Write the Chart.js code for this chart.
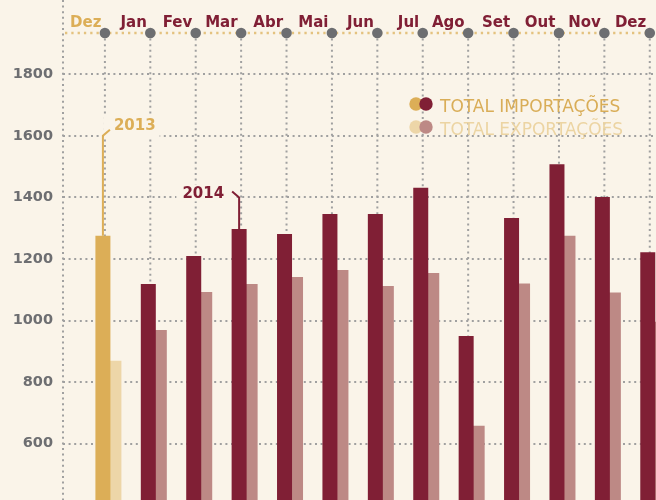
<!DOCTYPE html>
<html lang="pt">
<head>
<meta charset="utf-8">
<title>Importações e exportações</title>
<script src="https://cdn.jsdelivr.net/npm/chart.js@4.4.1/dist/chart.umd.min.js"></script>
<style>
    html, body { margin: 0; padding: 0; background: #faf4e9; }
    #wrap { position: relative; width: 656px; height: 500px; }
</style>
</head>
<body>
<div id="wrap"><canvas id="chart"></canvas></div>
<script>
"use strict";

// data
const MONTHS = ["Dez", "Jan", "Fev", "Mar", "Abr", "Mai", "Jun", "Jul", "Ago", "Set", "Out", "Nov", "Dez"];
const YEARS = [2013, 2014, 2014, 2014, 2014, 2014, 2014, 2014, 2014, 2014, 2014, 2014, 2014];
const IMPORTS = [1275, 1119, 1210, 1297, 1281, 1346, 1346, 1431, 950, 1333, 1508, 1401, 1222];
const EXPORTS = [869, 969, 1093, 1119, 1141, 1164, 1112, 1154, 658, 1120, 1275, 1091, 996];
const Y_TICKS = [600, 800, 1000, 1200, 1400, 1600, 1800];
const SERIES_NAMES = ["TOTAL IMPORTAÇÕES", "TOTAL EXPORTAÇÕES"];
const YEAR_NOTES = [
    { index: 0, text: "2013", bend: 1600, side: 1, dy: -6 },
    { index: 3, text: "2014", bend: 1400, side: -1, dy: 1 },
];

const COLORS = {
    2013: { imp: "#dcae57", exp: "#edd6a8" },
    2014: { imp: "#801f35", exp: "#bd8985" },
};
const GRID_GRAY = "#a0a0a0";
const AXIS_GRAY = "#6d6e71";
const TOP_LINE = "#e4c27f";
const FONT = "'DejaVu Sans'";
const TICK_SHIFT = -3.5; // month ticks sit a little left of the bar pairs

const dottedLine = (ctx, x1, y1, x2, y2) => {
    ctx.beginPath();
    ctx.moveTo(x1, y1);
    ctx.lineTo(x2, y2);
    ctx.stroke();
};

const decorations = {
    id: "decorations",
    beforeDatasetsDraw(chart) {
        const { ctx, chartArea, scales: { x } } = chart;
        ctx.save();
        ctx.lineWidth = 2;

        // left axis and month verticals
        ctx.strokeStyle = GRID_GRAY;
        ctx.setLineDash([2, 3.6]);
        dottedLine(ctx, chartArea.left, 0, chartArea.left, chartArea.bottom);
        MONTHS.forEach((m, i) => {
            const px = x.getPixelForValue(i) + TICK_SHIFT;
            dottedLine(ctx, px, chartArea.top, px, chartArea.bottom);
        });

        // top timeline
        ctx.strokeStyle = TOP_LINE;
        ctx.lineWidth = 2.3;
        ctx.setLineDash([2.3, 4]);
        dottedLine(ctx, chartArea.left + 2, chartArea.top, chartArea.right, chartArea.top);
        ctx.setLineDash([]);

        ctx.font = `bold 15px ${FONT}`;
        ctx.textAlign = "right";
        ctx.textBaseline = "alphabetic";
        MONTHS.forEach((m, i) => {
            const px = x.getPixelForValue(i) + TICK_SHIFT;
            ctx.fillStyle = AXIS_GRAY;
            ctx.beginPath();
            ctx.arc(px, chartArea.top, 5.3, 0, Math.PI * 2);
            ctx.fill();
            ctx.fillStyle = YEARS[i] === 2013 ? COLORS[2013].imp : COLORS[2014].imp;
            ctx.fillText(m, px - 3.5, chartArea.top - 6);
        });
        ctx.restore();
    },
    afterDatasetsDraw(chart) {
        const { ctx, scales: { y } } = chart;
        ctx.save();

        // year notes
        YEAR_NOTES.forEach((note) => {
            const bar = chart.getDatasetMeta(0).data[note.index];
            const color = COLORS[YEARS[note.index]].imp;
            const bendY = y.getPixelForValue(note.bend);
            const tipX = bar.x + note.side * 7;
            const tipY = bendY - 6;
            const baseY = bendY + note.dy;
            ctx.font = `bold 15px ${FONT}`;
            const w = ctx.measureText(note.text).width;
            const textX = note.side > 0 ? bar.x + 11 : bar.x - 15 - w;
            const left = Math.min(textX, tipX) - 6;
            const right = Math.max(textX + w, tipX) + 4;
            ctx.fillStyle = "#faf4e9";
            ctx.fillRect(left, baseY - 14, right - left, Math.max(baseY, bendY) + 3 - (baseY - 14));

            ctx.strokeStyle = color;
            ctx.lineWidth = 2;
            ctx.beginPath();
            ctx.moveTo(bar.x, bar.y);
            ctx.lineTo(bar.x, bendY);
            ctx.lineTo(tipX, tipY);
            ctx.stroke();

            ctx.fillStyle = color;
            ctx.textAlign = "left";
            ctx.fillText(note.text, textX, baseY);
        });

        // legend
        const legendRows = [
            { text: SERIES_NAMES[0], back: COLORS[2013].imp, front: COLORS[2014].imp, color: "#d9ad57", y: 104 },
            { text: SERIES_NAMES[1], back: COLORS[2013].exp, front: COLORS[2014].exp, color: "#ecd4a2", y: 127 },
        ];
        ctx.font = `17px ${FONT}`;
        ctx.textAlign = "left";
        legendRows.forEach((row) => {
            ctx.fillStyle = row.back;
            ctx.beginPath();
            ctx.arc(416, row.y, 6.7, 0, Math.PI * 2);
            ctx.fill();
            ctx.fillStyle = row.front;
            ctx.beginPath();
            ctx.arc(426, row.y, 6.7, 0, Math.PI * 2);
            ctx.fill();
            ctx.fillStyle = row.color;
            ctx.fillText(row.text, 440, row.y + 7.5);
        });
        ctx.restore();
    },
};

const pointsOf = (values) => values.map((v, i) => ({ x: i, y: v }));

const chartOptions = {
    type: "bar",
    data: {
        datasets: [
            {
                label: SERIES_NAMES[0],
                data: pointsOf(IMPORTS),
                backgroundColor: (c) => COLORS[YEARS[c.dataIndex]].imp,
            },
            {
                label: SERIES_NAMES[1],
                data: pointsOf(EXPORTS),
                backgroundColor: (c) => COLORS[YEARS[c.dataIndex]].exp,
            },
        ],
    },
    options: {
        responsive: true,
        maintainAspectRatio: false,
        animation: false,
        layout: { padding: { top: 33, left: 0, right: 0, bottom: 0 } },
        datasets: {
            bar: {
                categoryPercentage: 0.4844,
                barPercentage: 1.364,
            },
        },
        plugins: {
            legend: { display: false },
            tooltip: { enabled: false },
        },
        scales: {
            x: {
                type: "linear",
                display: false,
                offset: false,
                grid: { offset: false },
                min: -1.0,
                max: 12.06,
            },
            y: {
                min: 417,
                max: 1934,
                afterBuildTicks: (scale) => {
                    scale.ticks = Y_TICKS.map((v) => ({ value: v }));
                },
                afterFit: (scale) => {
                    scale.width = 63;
                    scale.paddingTop = 0;
                    scale.paddingBottom = 0;
                },
                border: { display: false, dash: [2, 3.6] },
                grid: {
                    color: GRID_GRAY,
                    lineWidth: 2,
                    drawTicks: false,
                },
                ticks: {
                    padding: 10,
                    color: AXIS_GRAY,
                    font: { family: FONT, size: 14.5, weight: "bold" },
                    callback: (v) => String(v),
                },
            },
        },
    },
    plugins: [decorations],
};

const chartInstance = new Chart(document.getElementById("chart").getContext("2d"), chartOptions);
</script>
</body>
</html>
